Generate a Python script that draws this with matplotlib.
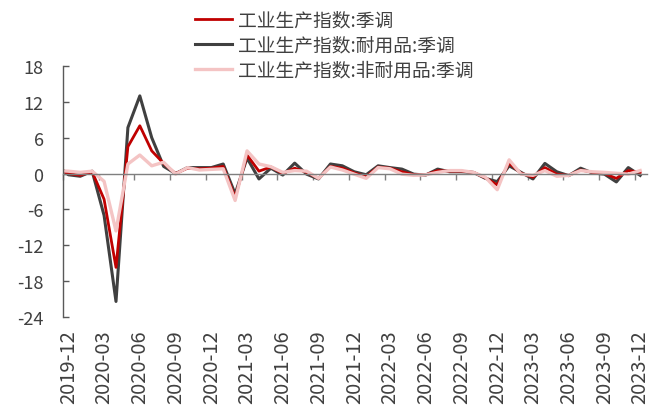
import numpy as np
import pandas as pd
import matplotlib
matplotlib.use("Agg")
import matplotlib.pyplot as plt

plt.rcParams['font.family'] = ['Noto Sans CJK SC', 'DejaVu Sans']
plt.rcParams['axes.unicode_minus'] = False

# monthly MoM changes (%), 2019-11 .. 2023-12
months = pd.period_range('2019-11', '2023-12', freq='M').strftime('%Y-%m').tolist()

ip_total = [0.9, 0.0, -0.3, 0.3, -4.3, -15.7, 4.5, 8.0, 3.8, 1.7,
            0.0, 0.9, 0.8, 0.9, 1.2, -4.0, 3.1, 0.4, 1.1, 0.0,
            0.9, 0.2, -0.8, 1.2, 0.9, 0.1, -0.5, 1.1, 0.9, 0.3,
            -0.2, -0.2, 0.5, 0.4, 0.4, 0.2, -0.7, -1.9, 1.75, 0.05,
            -0.6, 1.0, -0.1, -0.3, 0.6, 0.2, 0.0, -0.8, 0.5, 0.2]
ip_durable = [1.5, -0.2, -0.45, 0.4, -7.0, -21.4, 7.7, 13.0, 6.0, 1.2,
              0.0, 1.0, 1.0, 1.0, 1.6, -3.4, 2.6, -0.9, 0.9, -0.25,
              1.75, -0.1, -0.9, 1.6, 1.3, 0.3, -0.2, 1.3, 1.0, 0.75,
              -0.1, -0.25, 0.75, 0.3, 0.3, 0.2, -0.8, -1.35, 1.3, 0.2,
              -0.9, 1.7, 0.3, -0.35, 0.9, 0.1, -0.1, -1.4, 1.0, -0.3]
ip_nondurable = [0.5, 0.4, 0.2, 0.4, -1.3, -9.6, 1.6, 3.1, 1.3, 1.9,
                 -0.1, 1.0, 0.6, 0.7, 0.8, -4.5, 3.8, 1.6, 1.15, 0.2,
                 0.5, 0.4, -0.8, 1.1, 0.6, -0.1, -0.8, 1.0, 0.8, -0.1,
                 -0.3, -0.2, 0.2, 0.5, 0.5, 0.2, -0.6, -2.7, 2.3, -0.1,
                 -0.3, 0.5, -0.45, -0.3, 0.5, 0.3, 0.2, 0.05, -0.1, 0.5]

labels = ['工业生产指数:季调', '工业生产指数:耐用品:季调', '工业生产指数:非耐用品:季调']
colors = ['#C00000', '#404040', '#F4C4C4']

x = np.arange(len(months)) - 1  # 2019-12 sits at 0

fig = plt.figure(figsize=(6.54, 4.10), dpi=100)
ax = fig.add_axes([0.0963, 0.2244, 0.8926, 0.6122])

l_dur, = ax.plot(x, ip_durable, color=colors[1], lw=2.2, label=labels[1])
l_tot, = ax.plot(x, ip_total, color=colors[0], lw=2.0, label=labels[0])
l_non, = ax.plot(x, ip_nondurable, color=colors[2], lw=2.4, label=labels[2])

ax.set_xlim(-0.45, 48.55)
ax.set_ylim(-24, 18)
ax.set_yticks(np.arange(-24, 19, 6))
ax.tick_params(axis='y', direction='in', length=4.5, width=1.0, color='#595959',
               labelsize=13, labelcolor='#404040', pad=14)

for s in ['top', 'right']:
    ax.spines[s].set_visible(False)
ax.spines['left'].set_color('#595959')
ax.spines['left'].set_linewidth(1.0)
ax.spines['bottom'].set_position(('data', 0))
ax.spines['bottom'].set_color('#7f7f7f')
ax.spines['bottom'].set_linewidth(1.0)

# tick marks on the zero line, between months
tick_pos = np.arange(0, 49, 3) - 0.45
ax.set_xticks(tick_pos)
ax.set_xticklabels([])
ax.tick_params(axis='x', direction='out', length=4.5, width=1.0, color='#7f7f7f')

# month labels along the bottom edge
sec = ax.secondary_xaxis('bottom')
lab_pos = np.arange(0, 49, 3)
sec.set_xticks(lab_pos)
sec.set_xticklabels([months[i + 1] for i in lab_pos], rotation=90)
sec.tick_params(length=0, labelsize=14.5, labelcolor='#404040', pad=9)
sec.spines['bottom'].set_visible(False)

fig.legend(handles=[l_tot, l_dur, l_non], loc='upper left',
           bbox_to_anchor=(0.298, 0.975), frameon=False, fontsize=13.5,
           handlelength=2.0, handletextpad=0.3, labelspacing=0.22,
           borderpad=0, borderaxespad=0, labelcolor='#404040')

fig.savefig('out.png', dpi=100)
